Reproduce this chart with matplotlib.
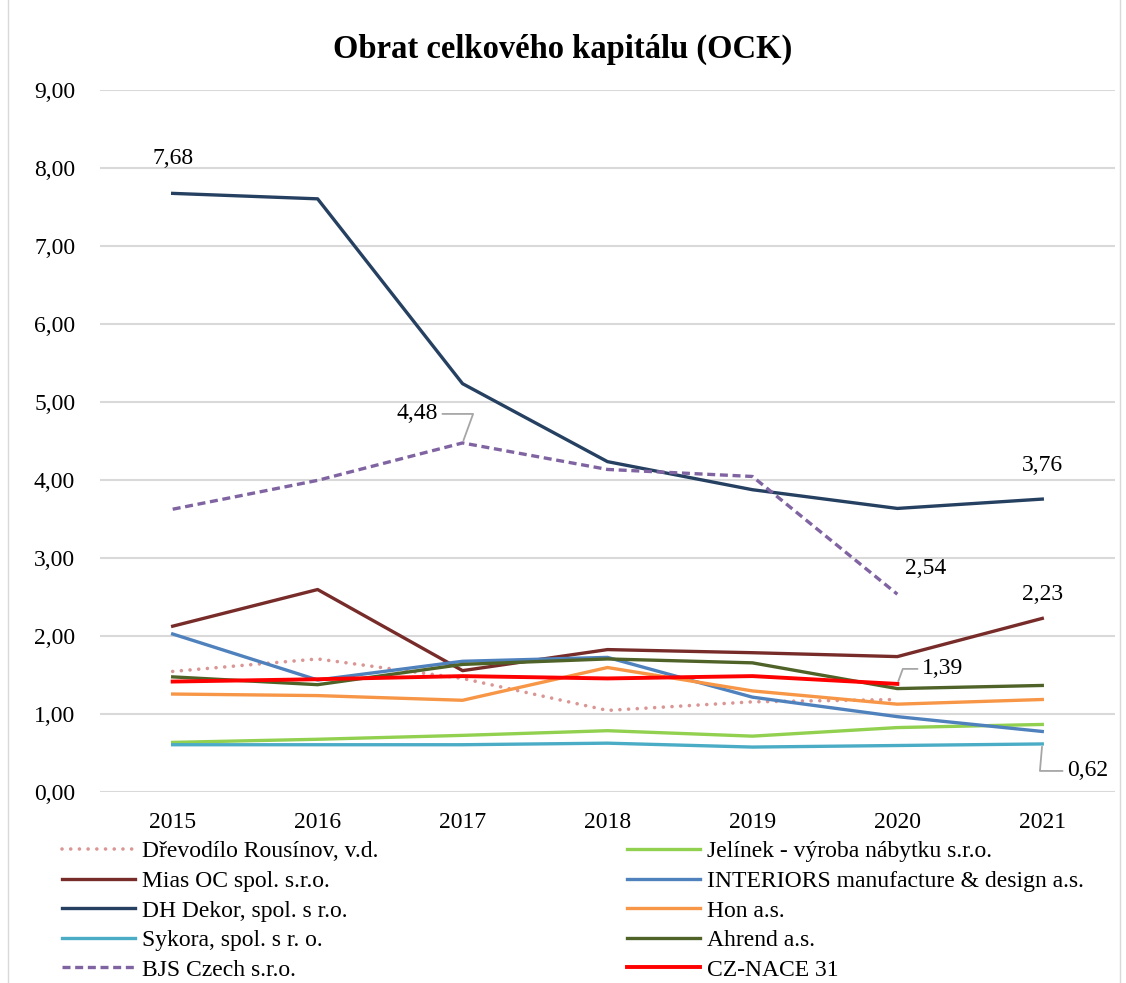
import matplotlib
matplotlib.use("Agg")
import matplotlib.pyplot as plt
from matplotlib.patches import Rectangle
import numpy as np

years = ["2015", "2016", "2017", "2018", "2019", "2020", "2021"]

drevodilo = [1.55, 1.71, 1.46, 1.05, 1.16, 1.19, None]
jelinek = [0.64, 0.68, 0.73, 0.79, 0.72, 0.83, 0.87]
mias = [2.13, 2.60, 1.56, 1.83, 1.79, 1.74, 2.23]
interiors = [2.03, 1.44, 1.68, 1.73, 1.22, 0.97, 0.78]
dh_dekor = [7.68, 7.61, 5.24, 4.24, 3.88, 3.64, 3.76]
hon = [1.26, 1.24, 1.18, 1.60, 1.30, 1.13, 1.19]
sykora = [0.61, 0.61, 0.61, 0.63, 0.58, 0.60, 0.62]
ahrend = [1.48, 1.38, 1.64, 1.71, 1.66, 1.33, 1.37]
bjs = [3.63, 4.00, 4.48, 4.14, 4.05, 2.54, None]
cz_nace = [1.42, 1.45, 1.49, 1.46, 1.49, 1.39, None]

series = [
    ("Dřevodílo Rousínov, v.d.", drevodilo, "#DA9694", (0, (0.01, 2.4))),
    ("Jelínek - výroba nábytku s.r.o.", jelinek, "#92D050", "-"),
    ("Mias OC spol. s.r.o.", mias, "#772C2A", "-"),
    ("INTERIORS manufacture & design a.s.", interiors, "#4F81BD", "-"),
    ("DH Dekor, spol. s r.o.", dh_dekor, "#254061", "-"),
    ("Hon a.s.", hon, "#F79646", "-"),
    ("Sykora, spol. s r. o.", sykora, "#4BACC6", "-"),
    ("Ahrend a.s.", ahrend, "#4F6228", "-"),
    ("BJS Czech s.r.o.", bjs, "#8064A2", (0, (2.4, 1.4))),
    ("CZ-NACE 31", cz_nace, "#FF0000", "-"),
]

plt.rcParams['font.family'] = ['Liberation Serif', 'DejaVu Serif']
FS = 17

fig = plt.figure(figsize=(11.26, 9.83), dpi=100)
ax = fig.add_axes([0.089, 0.194, 0.901, 0.714])

x = np.arange(len(years))
lines = {}
for name, vals, col, ls in series:
    v = np.array([np.nan if a is None else a for a in vals], dtype=float)
    if name.startswith("Dřevodílo"):
        ln, = ax.plot(x, v, color=col, lw=2.6, linestyle=ls, dash_capstyle='round', label=name)
    elif name == "CZ-NACE 31":
        ln, = ax.plot(x, v, color=col, lw=2.8, linestyle=ls, label=name)
    else:
        ln, = ax.plot(x, v, color=col, lw=2.4, linestyle=ls, label=name)
    lines[name] = ln

ax.set_xlim(-0.5, 6.5)
ax.set_ylim(0, 9)
yt = np.arange(0, 10, 1)
ax.set_yticks(yt)
ax.set_yticklabels([f"{t:.2f}".replace(".", ",") for t in yt], fontsize=FS)
ax.set_xticks(x)
ax.set_xticklabels(years, fontsize=FS)
ax.tick_params(length=0)
ax.tick_params(axis='x', pad=14)
ax.tick_params(axis='y', pad=18)
ax.grid(axis='y', color='#D9D9D9', lw=1.5)
ax.set_axisbelow(True)
for s in ax.spines.values():
    s.set_visible(False)

fig.text(0.5, 0.950, "Obrat celkového kapitálu (OCK)", ha='center', va='center',
         fontsize=23.5, fontweight='bold')

def fmt(v):
    return f"{v:.2f}".replace(".", ",")

lead = dict(arrowstyle='-', color='#A6A6A6', lw=1.3, shrinkA=1, shrinkB=2)

ax.annotate(fmt(dh_dekor[0]), (0, dh_dekor[0]), textcoords='offset pixels', xytext=(0, 35),
            ha='center', va='center', fontsize=FS)
ax.annotate(fmt(dh_dekor[6]), (6, dh_dekor[6]), textcoords='offset pixels', xytext=(0, 34),
            ha='center', va='center', fontsize=FS)
ax.annotate(fmt(bjs[5]), (5, bjs[5]), textcoords='offset pixels', xytext=(28, 26),
            ha='center', va='center', fontsize=FS)
ax.annotate(fmt(mias[6]), (6, mias[6]), textcoords='offset pixels', xytext=(0, 24),
            ha='center', va='center', fontsize=FS)
ax.annotate(fmt(bjs[2]), (2, bjs[2]), textcoords='offset pixels', xytext=(-45, 29),
            ha='center', va='center', fontsize=FS,
            arrowprops=dict(connectionstyle='angle,angleA=0,angleB=70,rad=0', **lead))
ax.annotate(fmt(cz_nace[5]), (5, cz_nace[5]), textcoords='offset pixels', xytext=(45, 15),
            ha='center', va='center', fontsize=FS,
            arrowprops=dict(connectionstyle='angle,angleA=180,angleB=70,rad=0', **lead))
ax.annotate(fmt(sykora[6]), (6, sykora[6]), textcoords='offset pixels', xytext=(45, -27),
            ha='center', va='center', fontsize=FS,
            arrowprops=dict(connectionstyle='angle,angleA=180,angleB=85,rad=0', **lead))

names = [n for n, *_ in series]
col1 = [names[i] for i in (0, 2, 4, 6, 8)]
col2 = [names[i] for i in (1, 3, 5, 7, 9)]
legkw = dict(loc='upper left', frameon=False, fontsize=FS, handlelength=3.1,
             handletextpad=0.3, labelspacing=0.34, borderaxespad=0, borderpad=0)
leg1 = fig.legend([lines[n] for n in col1], col1, bbox_to_anchor=(0.055, 0.1445), **legkw)
leg2 = fig.legend([lines[n] for n in col2], col2, bbox_to_anchor=(0.557, 0.1445), **legkw)

fig.patches.append(Rectangle((0.007, -0.01), 0.988, 1.02, transform=fig.transFigure,
                             fill=False, edgecolor='#D9D9D9', lw=1.0))

fig.savefig("out.png", dpi=100)
